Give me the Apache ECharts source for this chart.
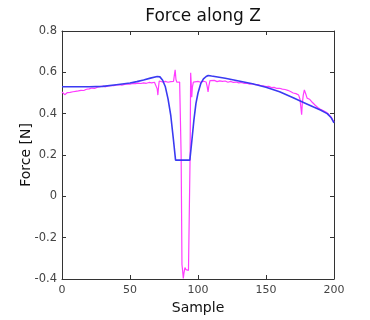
<!DOCTYPE html>
<html>
<head>
<meta charset="utf-8">
<script src="https://cdn.jsdelivr.net/npm/echarts@6/dist/echarts.min.js"></script>
<style>html,body{margin:0;padding:0;background:#fff}#c{width:370px;height:320px}</style>
</head>
<body>
<div id="c"></div>
<script>
const title = 'Force along Z';
const xName = 'Sample';
const yName = 'Force [N]';
const xTicks = [0, 50, 100, 150, 200];
const yTicks = [-0.4, -0.2, 0, 0.2, 0.4, 0.6, 0.8];

// measured force (magenta)
const measuredX = [0,1,2,3,4,6,8,10,12,14,16,18,20,22,24,26,28,30,32,34,36,38,40,42,44,46,48,50,52,54,56,58,60,62,64,66,68,69,70,70.5,71,71.5,72,74,76,78,80,81,82,82.7,83.2,83.8,84.5,85.5,86.5,87.2,87.6,88.2,88.7,89.2,89.7,90.4,91.2,92,93,93.8,94.2,94.6,95.0,95.4,95.9,96.6,98,100,102,104,106,106.8,107.4,108,108.8,110,112,114,116,118,120,122,124,126,128,130,132,134,136,138,140,142,144,146,148,150,152,154,156,158,160,162,164,166,168,170,172,173,174,175,175.8,176.2,176.7,177.4,178.2,178.8,179.5,180.2,181,182,183,184,185,186,187,188,189,190,192,194,196,197,198,199,200];
const measuredY = [0.505,0.497,0.492,0.498,0.502,0.503,0.506,0.508,0.510,0.513,0.512,0.518,0.520,0.524,0.522,0.528,0.531,0.533,0.530,0.534,0.536,0.535,0.539,0.540,0.538,0.542,0.544,0.543,0.546,0.545,0.548,0.546,0.549,0.547,0.551,0.549,0.552,0.548,0.52,0.49,0.53,0.558,0.556,0.553,0.556,0.552,0.555,0.553,0.556,0.59,0.612,0.565,0.552,0.556,0.553,0.55,0.2,-0.33,-0.36,-0.397,-0.37,-0.345,-0.355,-0.36,-0.358,-0.35,0.2,0.598,0.55,0.48,0.53,0.553,0.552,0.556,0.552,0.557,0.553,0.53,0.505,0.535,0.56,0.557,0.561,0.555,0.559,0.556,0.558,0.552,0.556,0.551,0.553,0.549,0.551,0.546,0.548,0.543,0.545,0.540,0.541,0.536,0.535,0.531,0.532,0.526,0.527,0.522,0.523,0.519,0.517,0.513,0.507,0.500,0.497,0.495,0.49,0.47,0.42,0.395,0.45,0.49,0.515,0.51,0.49,0.475,0.48,0.47,0.462,0.455,0.447,0.442,0.436,0.43,0.425,0.421,0.415,0.408,0.398,0.39,0.382,0.37,0.36];

// model force (blue)
const modelX = [0,10,20,30,40,50,55,60,65,70,72,74,76,78,80,82,83.5,94,95.5,97,98.5,100,102,104,106,107.5,110,120,130,140,150,160,170,180,185,190,195,198,200];
const modelY = [0.53,0.53,0.53,0.532,0.54,0.548,0.555,0.563,0.572,0.58,0.578,0.562,0.53,0.47,0.39,0.27,0.175,0.175,0.27,0.37,0.45,0.50,0.545,0.568,0.58,0.585,0.582,0.571,0.558,0.545,0.528,0.506,0.477,0.447,0.432,0.418,0.40,0.38,0.355];

const zip = (xs, ys) => xs.map((x, i) => [x, ys[i]]);

const font = 'DejaVu Sans';
const axisCommon = () => ({
  type: 'value',
  axisLine: { show: true, onZero: false, lineStyle: { color: '#333', width: 1 } },
  axisTick: { show: true, inside: true, length: 4, lineStyle: { color: '#333' } },
  splitLine: { show: false }
});

const chart = echarts.init(document.getElementById('c'), null, { renderer: 'canvas' });
chart.setOption({
  animation: false,
  backgroundColor: '#fff',
  title: {
    text: title, left: 198, textAlign: 'center', top: 3,
    textStyle: { fontFamily: font, fontSize: 17, fontWeight: 'normal', color: '#111' }
  },
  grid: { left: 62, right: 36, top: 31, bottom: 41, containLabel: false },
  xAxis: [
    Object.assign(axisCommon(), {
      position: 'bottom', min: xTicks[0], max: xTicks[xTicks.length - 1], interval: xTicks[1] - xTicks[0],
      axisLabel: { color: '#444', fontFamily: font, fontSize: 11, margin: 6 },
      name: xName, nameLocation: 'middle', nameGap: 20,
      nameTextStyle: { fontFamily: font, fontSize: 14, color: '#111' }
    }),
    Object.assign(axisCommon(), {
      position: 'top', min: xTicks[0], max: xTicks[xTicks.length - 1], interval: xTicks[1] - xTicks[0],
      axisLabel: { show: false }
    })
  ],
  yAxis: [
    Object.assign(axisCommon(), {
      position: 'left', min: yTicks[0], max: yTicks[yTicks.length - 1], interval: 0.2,
      axisLabel: { color: '#444', fontFamily: font, fontSize: 11.5, margin: 5,
        formatter: v => String(Math.round(v * 10) / 10) },
      name: yName, nameLocation: 'middle', nameGap: 29, nameMoveOverlap: false,
      nameTextStyle: { fontFamily: font, fontSize: 14, color: '#111' }
    }),
    Object.assign(axisCommon(), {
      position: 'right', min: yTicks[0], max: yTicks[yTicks.length - 1], interval: 0.2,
      axisLabel: { show: false }
    })
  ],
  series: [
    {
      type: 'line', xAxisIndex: 0, yAxisIndex: 0, showSymbol: false,
      data: zip(measuredX, measuredY),
      lineStyle: { color: '#ff3cff', width: 1.2 }, itemStyle: { color: '#ff3cff' }
    },
    {
      type: 'line', xAxisIndex: 0, yAxisIndex: 0, showSymbol: false,
      data: zip(modelX, modelY),
      lineStyle: { color: '#3a3af2', width: 1.6 }, itemStyle: { color: '#3a3af2' }
    }
  ]
});
</script>
</body>
</html>
